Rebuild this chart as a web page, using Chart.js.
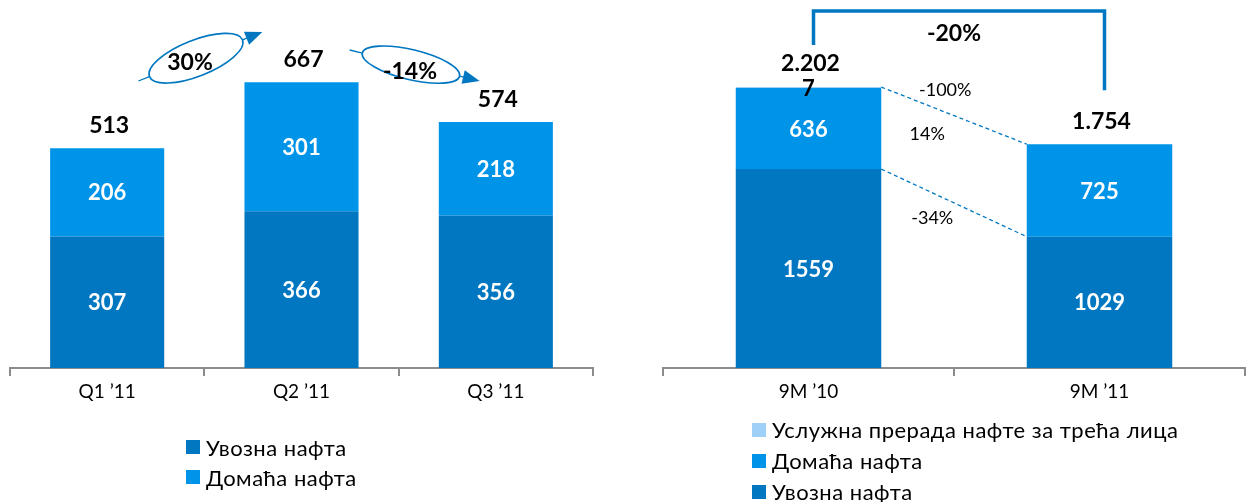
<!DOCTYPE html>
<html>
<head>
<meta charset="utf-8">
<script src="https://cdn.jsdelivr.net/npm/chart.js@4.4.0/dist/chart.umd.min.js"></script>
<style>
  body { margin: 0; background: #fff; font-family: Lato, sans-serif; }
  .wrap { position: absolute; top: 0; width: 620px; height: 502px; }
  #leftWrap { left: 0; }
  #rightWrap { left: 626px; }
  .legend { position: absolute; font-size: 22px; letter-spacing: 0.5px; color: #000; }
  .legend div { display: flex; align-items: center; white-space: nowrap; }
  .legend span { display: inline-block; width: 14px; height: 14px; margin-right: 6px; }
  #leftLegend { left: 186px; top: 432px; }
  #leftLegend div { height: 30px; }
  #rightLegend { left: 752px; top: 414px; }
  #rightLegend div { height: 31px; }
</style>
</head>
<body>
<div class="wrap" id="leftWrap"><canvas id="chartQuarters"></canvas></div>
<div class="wrap" id="rightWrap"><canvas id="chartPeriods"></canvas></div>
<div class="legend" id="leftLegend"></div>
<div class="legend" id="rightLegend"></div>
<script>
// data
const quarterLabels = ["Q1 ’11", "Q2 ’11", "Q3 ’11"];
const quarterImported = [307, 366, 356];
const quarterDomestic = [206, 301, 218];

const periodLabels = ["9M ’10", "9M ’11"];
const periodImported = [1559, 1029];
const periodDomestic = [636, 725];
const periodThirdParty = [7, 0];

const nameImported = "Увозна нафта";
const nameDomestic = "Домаћа нафта";
const nameThirdParty = "Услужна прерада нафте за трећа лица";

const darkBlue = "#0077c0";
const midBlue = "#0094e8";
const lightBlue = "#9fd0f8";
const lineBlue = "#0077c0";
const axisGrey = "#8c8c8c";

function pct(a, b) {
  return Math.round((b - a) / a * 100) + "%";
}

// segment values inside bars + totals above
const valueLabels = {
  id: "valueLabels",
  afterDatasetsDraw(chart) {
    const ctx = chart.ctx;
    const n = chart.data.labels.length;
    ctx.save();
    ctx.textAlign = "center";
    ctx.textBaseline = "middle";
    for (let i = 0; i < n; i++) {
      let total = 0;
      let top = Infinity;
      let x = 0;
      chart.data.datasets.forEach((ds, d) => {
        const bar = chart.getDatasetMeta(d).data[i];
        const v = ds.data[i];
        total += v;
        if (!v) return;
        top = Math.min(top, bar.y);
        x = bar.x;
        ctx.font = "bold 22px Lato";
        ctx.fillStyle = ds.labelColor || "#fff";
        ctx.fillText(String(v), bar.x, (bar.y + bar.base) / 2 + 1);
      });
      ctx.font = "bold 23px Lato";
      ctx.fillStyle = "#000";
      ctx.fillText(total.toLocaleString("de-DE"), x + 2, top - 23);
    }
    ctx.restore();
  }
};

function loopArrow(ctx, x0, y0, x1, y1, t, a, b, label, tdx, tdy) {
  const len = Math.hypot(x1 - x0, y1 - y0);
  const ux = (x1 - x0) / len, uy = (y1 - y0) / len;
  const cx = x0 + ux * t, cy = y0 + uy * t;
  ctx.save();
  ctx.strokeStyle = lineBlue;
  ctx.fillStyle = lineBlue;
  ctx.lineWidth = 1.3;
  ctx.beginPath();
  ctx.moveTo(x0, y0);
  ctx.lineTo(cx - ux * a, cy - uy * a);
  ctx.moveTo(cx + ux * a, cy + uy * a);
  ctx.lineTo(x1 - ux * 14, y1 - uy * 14);
  ctx.stroke();
  ctx.lineWidth = 1.6;
  ctx.beginPath();
  ctx.ellipse(cx, cy, a, b, Math.atan2(uy, ux), 0, Math.PI * 2);
  ctx.stroke();
  ctx.beginPath();
  ctx.moveTo(x1, y1);
  ctx.lineTo(x1 - ux * 17 - uy * 7, y1 - uy * 17 + ux * 7);
  ctx.lineTo(x1 - ux * 17 + uy * 7, y1 - uy * 17 - ux * 7);
  ctx.closePath();
  ctx.fill();
  ctx.font = "bold 23px Lato";
  ctx.fillStyle = "#000";
  ctx.textAlign = "center";
  ctx.textBaseline = "middle";
  ctx.fillText(label, cx + tdx, cy + tdy);
  ctx.restore();
}

const quarterArrows = {
  id: "quarterArrows",
  afterDatasetsDraw(chart) {
    const x = chart.scales.x;
    const top = chart.chartArea.top;
    const totals = quarterImported.map((v, i) => v + quarterDomestic[i]);
    const m1 = (x.getPixelForValue(0) + x.getPixelForValue(1)) / 2;
    const m2 = (x.getPixelForValue(1) + x.getPixelForValue(2)) / 2;
    loopArrow(chart.ctx, m1 - 66, top + 81, m1 + 58, top + 32, 62, 50, 18,
      pct(totals[0], totals[1]), -6, 4);
    loopArrow(chart.ctx, m2 - 49, top + 50, m2 + 81, top + 81, 63, 50, 15,
      pct(totals[1], totals[2]), -1, 7);
  }
};

const periodBridge = {
  id: "periodBridge",
  afterDatasetsDraw(chart) {
    const ctx = chart.ctx;
    const top = chart.chartArea.top;
    const imp = chart.getDatasetMeta(0).data;
    const third = chart.getDatasetMeta(2).data;
    const dom = chart.getDatasetMeta(1).data;
    const stackTop = i => Math.min(imp[i].y, dom[i].y, periodThirdParty[i] ? third[i].y : Infinity);
    const t0 = stackTop(0), t1 = stackTop(1);
    const totals = periodImported.map((v, i) => v + periodDomestic[i] + periodThirdParty[i]);

    ctx.save();
    // bracket
    ctx.strokeStyle = lineBlue;
    ctx.lineWidth = 3.5;
    ctx.beginPath();
    ctx.moveTo(imp[0].x + 5, t0 - 42);
    ctx.lineTo(imp[0].x + 5, top + 11);
    ctx.lineTo(imp[1].x + 5, top + 11);
    ctx.lineTo(imp[1].x + 5, t1 - 54);
    ctx.stroke();
    ctx.font = "bold 23px Lato";
    ctx.fillStyle = "#000";
    ctx.textAlign = "center";
    ctx.textBaseline = "middle";
    ctx.fillText(pct(totals[0], totals[1]), (imp[0].x + imp[1].x) / 2, top + 34);

    // dashed connectors
    const xa = imp[0].x + imp[0].width / 2;
    const xb = imp[1].x - imp[1].width / 2;
    ctx.lineWidth = 1.3;
    ctx.setLineDash([4, 3]);
    ctx.beginPath();
    ctx.moveTo(xa, t0);
    ctx.lineTo(xb, t1);
    ctx.moveTo(xa, imp[0].y);
    ctx.lineTo(xb, imp[1].y);
    ctx.stroke();
    ctx.setLineDash([]);

    const onLine = (ya, yb, dx) => ya + (yb - ya) * dx / (xb - xa);
    ctx.font = "18px Lato";
    ctx.fillText(pct(periodThirdParty[0], periodThirdParty[1]), xa + 64, onLine(t0, t1, 64) - 22);
    ctx.fillText(pct(periodDomestic[0], periodDomestic[1]), xa + 46, onLine(t0, t1, 46) + 29);
    ctx.fillText(pct(periodImported[0], periodImported[1]), xa + 51, onLine(imp[0].y, imp[1].y, 51) + 25);
    ctx.restore();
  }
};

function xAxis() {
  return {
    stacked: true,
    grid: { display: true, drawOnChartArea: false, drawTicks: true, tickLength: 8,
            color: axisGrey, lineWidth: 2, offset: true },
    border: { display: true, color: axisGrey, width: 2 },
    ticks: { color: "#000", font: { family: "Lato", size: 19 }, padding: 4 },
    afterFit(scale) { scale.height = 134; }
  };
}

new Chart(document.getElementById("chartQuarters"), {
  type: "bar",
  data: {
    labels: quarterLabels,
    datasets: [
      { label: nameImported, data: quarterImported, backgroundColor: darkBlue },
      { label: nameDomestic, data: quarterDomestic, backgroundColor: midBlue }
    ]
  },
  options: {
    responsive: true,
    maintainAspectRatio: false,
    animation: false,
    layout: { padding: { left: 10, right: 27, top: 0, bottom: 0 } },
    datasets: { bar: { categoryPercentage: 1, barPercentage: 0.587 } },
    plugins: { legend: { display: false }, tooltip: { enabled: false } },
    scales: {
      x: xAxis(),
      y: { display: false, stacked: true, min: 0, max: 859 }
    }
  },
  plugins: [valueLabels, quarterArrows]
});

new Chart(document.getElementById("chartPeriods"), {
  type: "bar",
  data: {
    labels: periodLabels,
    datasets: [
      { label: nameImported, data: periodImported, backgroundColor: darkBlue },
      { label: nameDomestic, data: periodDomestic, backgroundColor: midBlue },
      { label: nameThirdParty, data: periodThirdParty, backgroundColor: lightBlue, labelColor: "#000" }
    ]
  },
  options: {
    responsive: true,
    maintainAspectRatio: false,
    animation: false,
    layout: { padding: { left: 37, right: 1, top: 0, bottom: 0 } },
    datasets: { bar: { categoryPercentage: 1, barPercentage: 0.5 } },
    plugins: { legend: { display: false }, tooltip: { enabled: false } },
    scales: {
      x: xAxis(),
      y: { display: false, stacked: true, min: 0, max: 2884 }
    }
  },
  plugins: [valueLabels, periodBridge]
});

// legends
function buildLegend(el, items) {
  items.forEach(([name, color]) => {
    const row = document.createElement("div");
    const box = document.createElement("span");
    box.style.background = color;
    row.appendChild(box);
    row.appendChild(document.createTextNode(name));
    el.appendChild(row);
  });
}
buildLegend(document.getElementById("leftLegend"), [[nameImported, darkBlue], [nameDomestic, midBlue]]);
buildLegend(document.getElementById("rightLegend"),
  [[nameThirdParty, lightBlue], [nameDomestic, midBlue], [nameImported, darkBlue]]);
</script>
</body>
</html>
